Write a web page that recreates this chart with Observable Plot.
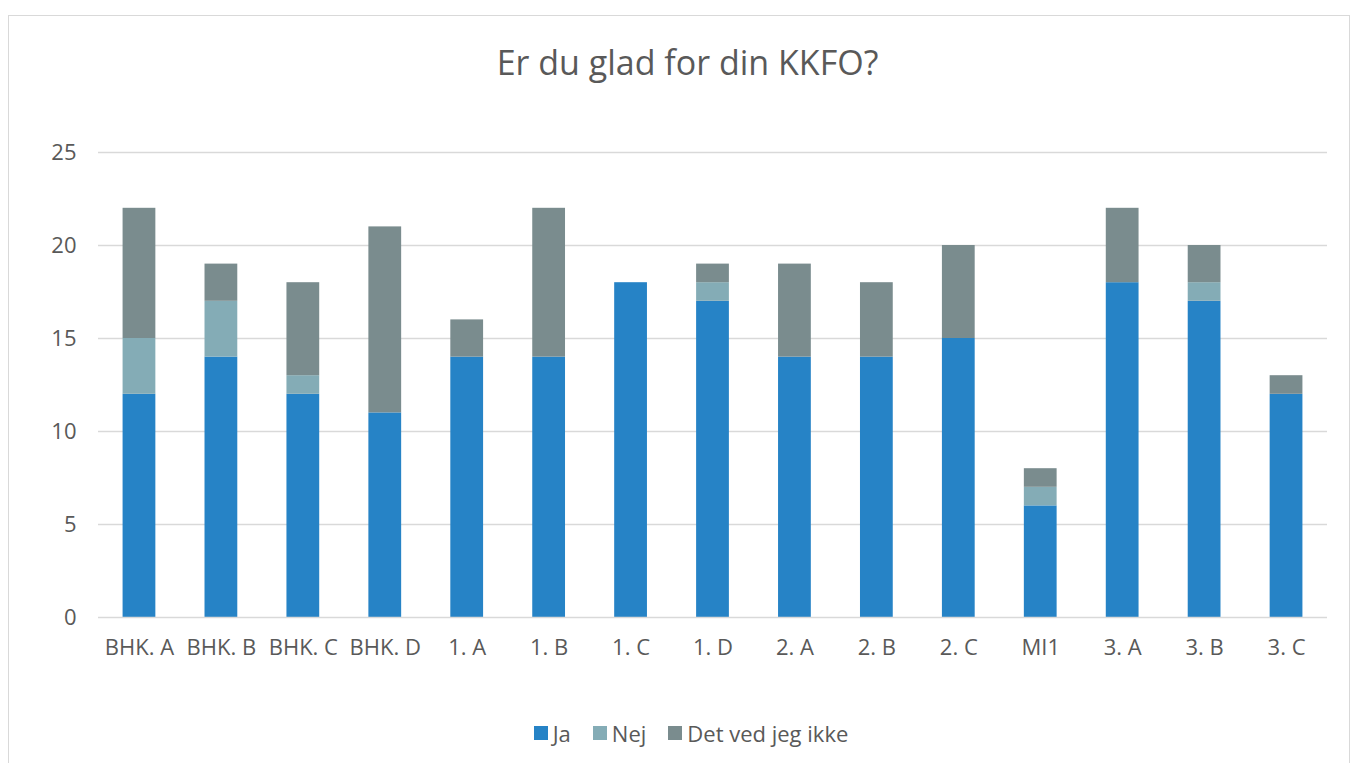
<!DOCTYPE html>
<html>
<head>
<meta charset="utf-8">
<script src="https://cdn.jsdelivr.net/npm/d3@7"></script>
<script src="https://cdn.jsdelivr.net/npm/@observablehq/plot@0.6"></script>
<style>
  html, body { margin: 0; padding: 0; background: #fff; width: 1358px; height: 763px; overflow: hidden; }
  body { position: relative; font-family: "Open Sans", "Liberation Sans", sans-serif; }
  #frame { position: absolute; left: 8px; top: 15px; width: 1342px; height: 800px; border: 1px solid #d9d9d9; box-sizing: border-box; }
  #title { position: absolute; left: 0; width: 1375px; top: 38px; text-align: center; font-size: 34px; line-height: 48px; color: #595959; }
  #chart { position: absolute; left: 0; top: 130px; }
  #legend { position: absolute; left: 0; width: 1382px; top: 718px; display: flex; justify-content: center; gap: 22px; font-size: 22px; line-height: 30px; color: #595959; }
  #legend span.item { display: flex; align-items: center; }
  #legend span.sw { display: inline-block; width: 14px; height: 14px; margin-right: 5px; }
</style>
</head>
<body>
<div id="frame"></div>
<div id="title">Er du glad for din KKFO?</div>
<div id="chart"></div>
<div id="legend"></div>
<script>
const categories = ["BHK. A","BHK. B","BHK. C","BHK. D","1. A","1. B","1. C","1. D","2. A","2. B","2. C","MI1","3. A","3. B","3. C"];
const series = ["Ja","Nej","Det ved jeg ikke"];
const ja  = [12,14,12,11,14,14,18,17,14,14,15,6,18,17,12];
const nej = [3,3,1,0,0,0,0,1,0,0,0,1,0,1,0];
const det = [7,2,5,10,2,8,0,1,5,4,5,1,4,2,1];
const colors = ["#2683C6","#84ACB6","#7A8C8E"];
const yTicks = [0,5,10,15,20,25];

const values = [ja, nej, det];
const data = [];
series.forEach((s, si) => categories.forEach((c, ci) => data.push({cat: c, series: s, value: values[si][ci]})));

const plot = Plot.plot({
  width: 1358,
  height: 537,
  marginLeft: 98,
  marginRight: 31,
  marginTop: 22,
  marginBottom: 50,
  style: {fontFamily: '"Open Sans", "Liberation Sans", sans-serif', fontSize: "22px", color: "#595959", background: "transparent"},
  x: {domain: categories, paddingInner: 0.6, paddingOuter: 0.3, round: false, label: null, tickSize: 0, tickPadding: 22},
  y: {domain: [0, 25], ticks: yTicks, label: null, tickSize: 0, tickPadding: 22},
  color: {domain: series, range: colors},
  marks: [
    Plot.gridY(yTicks.filter(d => d > 0), {stroke: "#d9d9d9", strokeOpacity: 1, strokeWidth: 1.5}),
    Plot.barY(data, Plot.stackY({x: "cat", y: "value", fill: "series", order: series})),
    Plot.ruleY([0], {stroke: "#d9d9d9", strokeWidth: 1.5})
  ]
});
document.getElementById("chart").appendChild(plot);

const legend = document.getElementById("legend");
series.forEach((s, i) => {
  const item = document.createElement("span");
  item.className = "item";
  const sw = document.createElement("span");
  sw.className = "sw";
  sw.style.background = colors[i];
  item.appendChild(sw);
  item.appendChild(document.createTextNode(s));
  legend.appendChild(item);
});
</script>
</body>
</html>
